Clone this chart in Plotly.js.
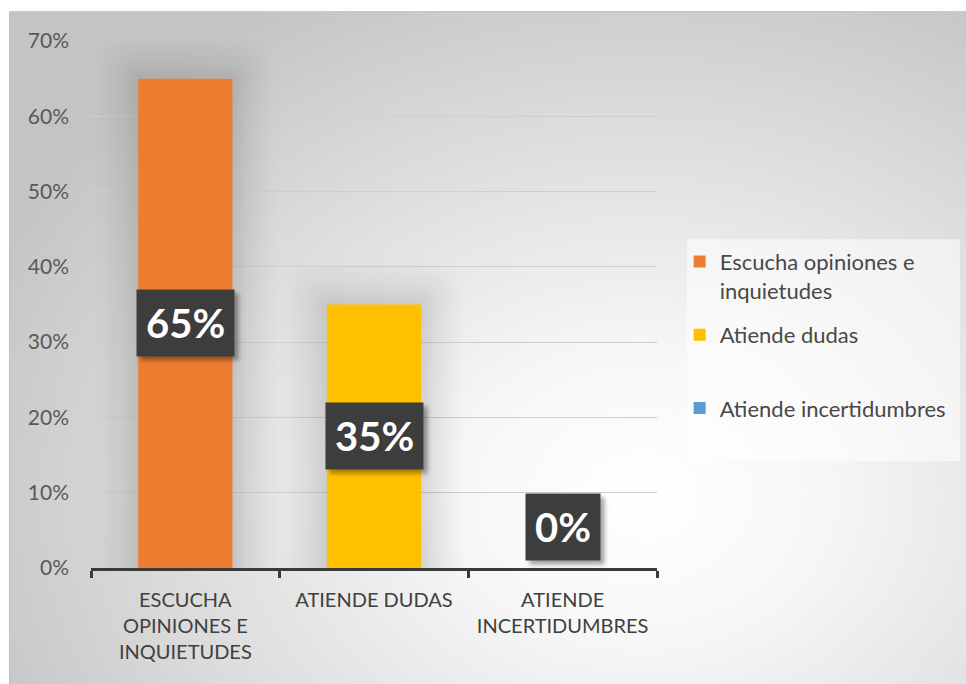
<!DOCTYPE html>
<html>
<head>
<meta charset="utf-8">
<script src="https://cdn.plot.ly/plotly-3.0.1.min.js"></script>
<style>
  html, body { margin: 0; padding: 0; background: #ffffff; }
  #frame {
    position: absolute; left: 9px; top: 11px; width: 957px; height: 673px;
    border-left: 1px solid #bfbfbf; border-top: 2px solid #c8c8c8;
    box-sizing: border-box;
    background: radial-gradient(ellipse 75% 85% at 66% 72%, #ffffff 0%, #f7f7f7 25%, #d9d9d9 70%, #c4c4c4 100%);
  }
  #chart { position: absolute; left: 9px; top: 11px; width: 957px; height: 673px; }
</style>
</head>
<body>
<svg width="1" height="1" style="position:absolute;left:0;top:0">
  <defs>
    <filter id="glow" filterUnits="userSpaceOnUse" x="-100" y="-100" width="1157" height="873" color-interpolation-filters="sRGB">
      <feMorphology in="SourceAlpha" operator="dilate" radius="26" result="d"/>
      <feGaussianBlur in="d" stdDeviation="12" result="b"/>
      <feComponentTransfer in="b" result="c"><feFuncA type="linear" slope="0.08"/></feComponentTransfer>
      <feMorphology in="SourceAlpha" operator="dilate" radius="8" result="d2"/>
      <feGaussianBlur in="d2" stdDeviation="5" result="b2"/>
      <feComponentTransfer in="b2" result="c2"><feFuncA type="linear" slope="0.05"/></feComponentTransfer>
      <feMerge><feMergeNode in="c"/><feMergeNode in="c2"/><feMergeNode in="SourceGraphic"/></feMerge>
    </filter>
    <filter id="boxshadow" x="-20%" y="-20%" width="150%" height="150%">
      <feDropShadow dx="4" dy="4" stdDeviation="2" flood-color="#000000" flood-opacity="0.35"/>
    </filter>
  </defs>
</svg>
<div id="frame"></div>
<div id="chart"></div>
<script>
// ---- data ----
const categories = ["ESCUCHA<br>OPINIONES E<br>INQUIETUDES", "ATIENDE DUDAS", "ATIENDE<br>INCERTIDUMBRES"];
const seriesNames = ["Escucha opiniones e<br>inquietudes", "Atiende dudas", "Atiende incertidumbres"];
const values = [0.65, 0.35, 0.0];
const labels = ["65%", "35%", "0%"];
const colors = ["#ED7D31", "#FFC000", "#5B9BD5"];
const yTickVals = [0, 0.1, 0.2, 0.3, 0.4, 0.5, 0.6, 0.7];
const yTickText = ["0%", "10%", "20%", "30%", "40%", "50%", "60%", "70%"];

const FONT = "Lato, 'Noto Sans', sans-serif";

const traces = values.map((v, i) => ({
  type: "bar",
  x: [categories[i]],
  y: [v],
  name: seriesNames[i] + (seriesNames[i].indexOf("<br>") < 0 && i < values.length - 1 ? "<br>\u00a0" : ""),
  legendgroup: "g" + i,
  marker: { color: colors[i] },
  width: 0.5,
  hoverinfo: "skip"
}));

const annotations = values.map((v, i) => ({
  x: categories[i], xref: "x", yref: "y",
  y: v === 0 ? 0 : v / 2,
  yanchor: v === 0 ? "bottom" : "middle",
  yshift: v === 0 ? 7 : 0,
  showarrow: false,
  text: labels[i],
  borderpad: 9,
  bgcolor: "#3d3d3d",
  font: { family: FONT, size: 40, weight: 700, color: "#ffffff" }
}));

const layout = {
  width: 957, height: 673,
  margin: { l: 82, r: 309, t: 30, b: 116 },
  paper_bgcolor: "rgba(0,0,0,0)",
  plot_bgcolor: "rgba(0,0,0,0)",
  font: { family: FONT, color: "#404040" },
  bargap: 0.5,
  showlegend: true,
  legend: {
    x: 1.04, xanchor: "left", y: 0.621, yanchor: "top",
    bgcolor: "rgba(0,0,0,0)",
    font: { family: FONT, size: 22, color: "#484848" },
    valign: "top",
    tracegroupgap: 13,
    traceorder: "grouped"
  },
  xaxis: {
    type: "category",
    showline: true, linecolor: "#3a3a3a", linewidth: 3,
    ticks: "outside", tickson: "boundaries", ticklen: 7, tickwidth: 3, tickcolor: "#3a3a3a",
    tickfont: { family: FONT, size: 20, color: "#404040" },
    ticklabelstandoff: 12,
    showgrid: false, zeroline: false, fixedrange: true
  },
  yaxis: {
    range: [0, 0.7],
    tickvals: yTickVals, ticktext: yTickText,
    showgrid: true, gridcolor: "#cfcfcf", gridwidth: 1,
    zeroline: false, showline: false, ticks: "",
    tickfont: { family: FONT, size: 21, color: "#595959" },
    ticklabelstandoff: 21,
    fixedrange: true
  },
  shapes: [{
    type: "rect", xref: "paper", yref: "paper",
    x0: 1.053, x1: 1.535, y0: 0.203, y1: 0.624,
    fillcolor: "rgba(255,255,255,0.55)", line: { width: 0 }, layer: "below"
  }],
  annotations: annotations
};

function applyEffects() {
  document.querySelectorAll("#chart .barlayer .trace").forEach(g => g.setAttribute("filter", "url(#glow)"));
  document.querySelectorAll("#chart g.annotation rect.bg").forEach(r => r.setAttribute("filter", "url(#boxshadow)"));
}

Plotly.newPlot("chart", traces, layout, { displayModeBar: false, staticPlot: true }).then(applyEffects);
</script>
</body>
</html>
